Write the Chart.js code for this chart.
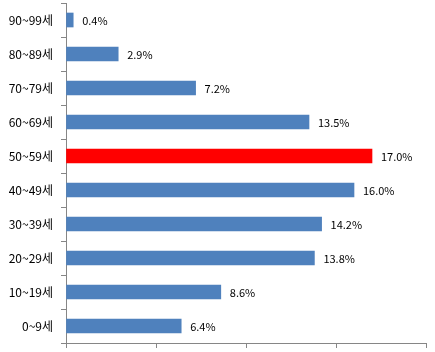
<!DOCTYPE html>
<html><head><meta charset="utf-8">
<script src="https://cdn.jsdelivr.net/npm/chart.js@4/dist/chart.umd.min.js"></script>
<style>html,body{margin:0;padding:0;background:#fff}canvas{display:block}</style>
</head><body>
<canvas id="c" width="435" height="352"></canvas>
<script>
const categories = ['90~99세','80~89세','70~79세','60~69세','50~59세','40~49세','30~39세','20~29세','10~19세','0~9세'];
const values = [0.4, 2.9, 7.2, 13.5, 17.0, 16.0, 14.2, 13.8, 8.6, 6.4];
const highlight = '50~59세';
const xTicks = [0, 5, 10, 15, 20];

const FONT = '"Noto Sans CJK KR", "DejaVu Sans", sans-serif';
const labelPlugin = {
  id: 'vlabels',
  afterDatasetsDraw(chart) {
    const ctx = chart.ctx;
    const meta = chart.getDatasetMeta(0);
    ctx.save();
    ctx.font = '11px ' + FONT;
    ctx.fillStyle = '#000';
    ctx.textBaseline = 'middle';
    ctx.textAlign = 'left';
    meta.data.forEach((el, i) => {
      ctx.fillText(values[i].toFixed(1) + '%', el.x + 9, el.y + 1);
    });
    ctx.restore();
  }
};

new Chart(document.getElementById('c'), {
  type: 'bar',
  data: {
    labels: categories,
    datasets: [{
      data: values,
      backgroundColor: categories.map(c => c === highlight ? '#FF0000' : '#4F81BD'),
      barThickness: 14
    }]
  },
  options: {
    indexAxis: 'y',
    responsive: false,
    animation: false,
    layout: { padding: { top: 3, right: 9, left: 0, bottom: 0 } },
    plugins: { legend: { display: false }, tooltip: { enabled: false } },
    scales: {
      x: {
        min: xTicks[0], max: xTicks[xTicks.length - 1],
        afterBuildTicks: s => { s.ticks = xTicks.map(v => ({ value: v })); },
        ticks: { display: false },
        grid: { display: true, drawOnChartArea: false, drawTicks: true, tickLength: 5, color: '#868686' },
        border: { display: true, color: '#868686' },
        afterFit: s => { s.height = 9; s.paddingLeft = 0; s.paddingRight = 0; }
      },
      y: {
        ticks: { color: '#000', font: { family: FONT, size: 12 }, padding: 8 },
        grid: { display: true, drawOnChartArea: false, drawTicks: true, tickLength: 5, color: '#868686', offset: true },
        border: { display: true, color: '#868686' },
        afterFit: s => { s.width = 66; s.paddingTop = 0; s.paddingBottom = 0; }
      }
    }
  },
  plugins: [labelPlugin]
});
</script>
</body></html>
